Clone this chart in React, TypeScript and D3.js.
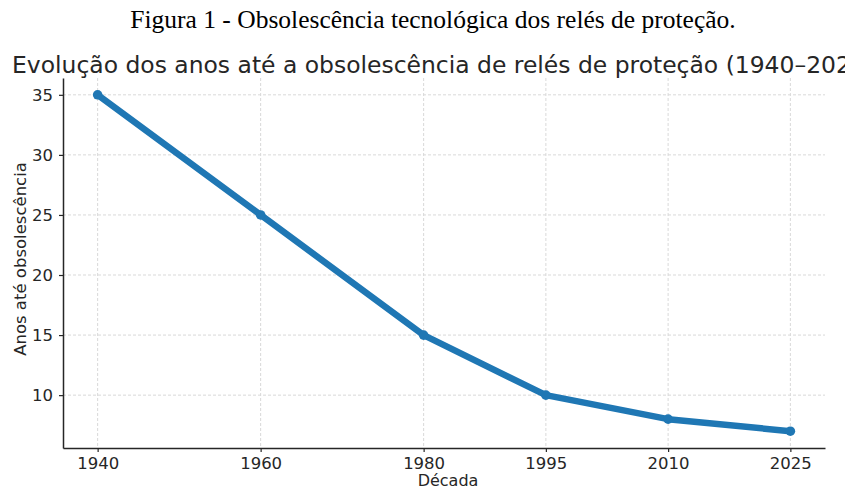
import { useEffect, useRef } from "react";
import * as d3 from "d3";

// ----- Data -----------------------------------------------------------------
const decades = [1940, 1960, 1980, 1995, 2010, 2025];
const yearsToObsolescence = [35, 25, 15, 10, 8, 7];
const yTicks = [10, 15, 20, 25, 30, 35];

const figureCaption = "Figura 1 - Obsolescência tecnológica dos relés de proteção.";
const chartTitle = "Evolução dos anos até a obsolescência de relés de proteção (1940–2025)";

const W = 845;
const H = 490;

const App = () => {
  const svgRef = useRef<SVGSVGElement | null>(null);

  useEffect(() => {
    const svg = d3.select(svgRef.current);
    svg.selectAll("*").remove();

    const margin = { top: 78, right: 20, bottom: 42, left: 63 };
    const innerW = W - margin.left - margin.right;
    const innerH = H - margin.top - margin.bottom;
    const font = "DejaVu Sans, sans-serif";
    const ink = "#262626";

    svg.append("rect").attr("width", W).attr("height", H).attr("fill", "#fff");

    // ----- Captions -----------------------------------------------------------
    svg
      .append("text")
      .attr("x", 433)
      .attr("y", 28)
      .attr("text-anchor", "middle")
      .attr("font-family", "Liberation Serif, Times New Roman, serif")
      .attr("font-size", 25.5)
      .attr("fill", "#000")
      .text(figureCaption);

    // title runs past the right edge, as in the source figure
    svg
      .append("text")
      .attr("x", 12)
      .attr("y", 73)
      .attr("font-family", font)
      .attr("font-size", 23.45)
      .attr("fill", ink)
      .text(chartTitle);

    const g = svg
      .append("g")
      .attr("transform", `translate(${margin.left},${margin.top})`);

    // ----- Scales (matplotlib-style 5% padding) -------------------------------
    const [x0, x1] = d3.extent(decades) as [number, number];
    const xPad = (x1 - x0) * 0.05;
    const x = d3.scaleLinear().domain([x0 - xPad, x1 + xPad]).range([0, innerW]);

    const [y0, y1] = d3.extent(yearsToObsolescence) as [number, number];
    const yPad = (y1 - y0) * 0.05;
    const y = d3.scaleLinear().domain([y0 - yPad, y1 + yPad]).range([innerH, 0]);

    // ----- Grid ----------------------------------------------------------------
    g.append("g")
      .selectAll("line")
      .data(decades)
      .join("line")
      .attr("x1", (d) => x(d))
      .attr("x2", (d) => x(d))
      .attr("y1", 0)
      .attr("y2", innerH)
      .attr("stroke", "#d9d9d9")
      .attr("stroke-width", 1)
      .attr("stroke-dasharray", "3,2");

    g.append("g")
      .selectAll("line")
      .data(yTicks)
      .join("line")
      .attr("x1", 0)
      .attr("x2", innerW)
      .attr("y1", (d) => y(d))
      .attr("y2", (d) => y(d))
      .attr("stroke", "#d9d9d9")
      .attr("stroke-width", 1)
      .attr("stroke-dasharray", "3,2");

    // ----- Axes ----------------------------------------------------------------
    const xAxis = g
      .append("g")
      .attr("transform", `translate(0,${innerH})`)
      .call(
        d3
          .axisBottom(x)
          .tickValues(decades)
          .tickFormat(d3.format("d") as any)
          .tickSize(4)
          .tickPadding(5)
          .tickSizeOuter(0),
      );

    const yAxis = g.append("g").call(
      d3
        .axisLeft(y)
        .tickValues(yTicks)
        .tickSize(4)
        .tickPadding(6)
        .tickSizeOuter(0),
    );

    [xAxis, yAxis].forEach((ax) => {
      ax.select(".domain").attr("stroke", ink).attr("stroke-width", 1.5);
      ax.selectAll(".tick line").attr("stroke", ink).attr("stroke-width", 1.2);
      ax.selectAll("text")
        .attr("font-family", font)
        .attr("font-size", 16.5)
        .attr("fill", ink);
    });

    // ----- Axis labels ---------------------------------------------------------
    svg
      .append("text")
      .attr("x", margin.left + innerW / 2 + 4)
      .attr("y", 486)
      .attr("text-anchor", "middle")
      .attr("font-family", font)
      .attr("font-size", 16)
      .attr("fill", ink)
      .text("Década");

    svg
      .append("text")
      .attr("transform", `translate(26,${margin.top + innerH / 2 - 4}) rotate(-90)`)
      .attr("text-anchor", "middle")
      .attr("font-family", font)
      .attr("font-size", 16.5)
      .attr("fill", ink)
      .text("Anos até obsolescência");

    // ----- Line + markers -----------------------------------------------------
    const points = decades.map((d, i) => ({ year: d, value: yearsToObsolescence[i] }));

    const line = d3
      .line<{ year: number; value: number }>()
      .x((d) => x(d.year))
      .y((d) => y(d.value));

    g.append("path")
      .datum(points)
      .attr("fill", "none")
      .attr("stroke", "#1f77b4")
      .attr("stroke-width", 6.5)
      .attr("stroke-linejoin", "round")
      .attr("d", line);

    g.append("g")
      .selectAll("circle")
      .data(points)
      .join("circle")
      .attr("cx", (d) => x(d.year))
      .attr("cy", (d) => y(d.value))
      .attr("r", 4.8)
      .attr("fill", "#1f77b4");
  }, []);

  return (
    <svg
      ref={svgRef}
      width={W}
      height={H}
      style={{ position: "absolute", left: 0, top: 0, display: "block" }}
    />
  );
};

export default App;
